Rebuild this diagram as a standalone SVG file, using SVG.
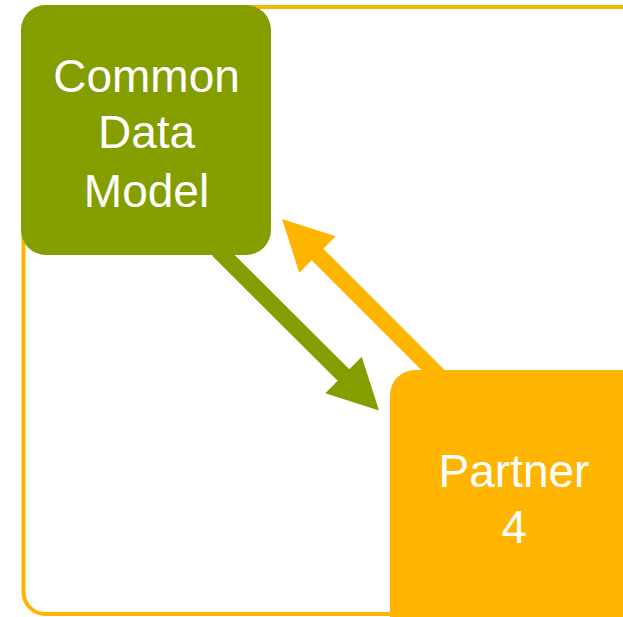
<svg xmlns="http://www.w3.org/2000/svg" width="623" height="617" viewBox="0 0 623 617">
<style>
.lbl{font-family:"Liberation Sans",Arial,sans-serif;font-size:46px;fill:#ffffff;text-anchor:middle}
.green{fill:#849E00}
.orange{fill:#FFB500}
</style>
<rect id="frame" x="23.5" y="7" width="620" height="607" rx="22" fill="#ffffff" stroke="#FFB500" stroke-width="4"/>
<g id="connectors">
<polygon class="green" points="223.8,244.2 349.3,369.2 361.7,356.8 379,410.5 325.3,393.2 337.7,380.8 212.2,255.8"/>
<polygon class="orange" points="282,219 335.7,236.3 323.3,248.7 455.8,381.2 444.2,392.8 311.7,260.3 299.3,272.7"/>
</g>
<g id="cdm">
<rect class="green" x="21" y="5" width="250" height="250" rx="25"/>
<text class="lbl" x="146.5" y="92">Common</text>
<text class="lbl" x="146.5" y="148">Data</text>
<text class="lbl" x="146.5" y="207">Model</text>
</g>
<g id="partner4">
<rect class="orange" x="390" y="370" width="260" height="270" rx="25"/>
<text class="lbl" x="514" y="487">Partner</text>
<text class="lbl" x="514" y="543">4</text>
</g>
</svg>
